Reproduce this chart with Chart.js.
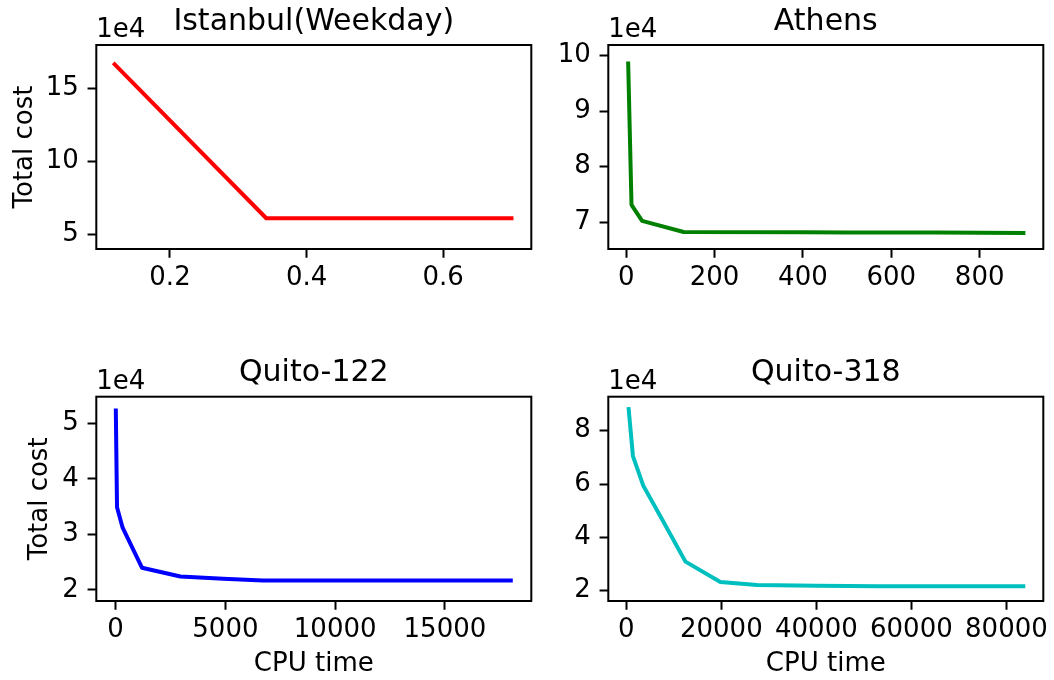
<!DOCTYPE html>
<html>
<head>
<meta charset="utf-8">
<script src="https://cdn.jsdelivr.net/npm/chart.js@4.4.1/dist/chart.umd.min.js"></script>
<style>
  html, body { margin: 0; padding: 0; background: #fff; }
  #fig { position: relative; width: 1054px; height: 680px; }
  #fig canvas { position: absolute; left: 0; top: 0; }
</style>
</head>
<body>
<div id="fig">
  <canvas id="istanbul" width="1054" height="680"></canvas>
  <canvas id="athens" width="1054" height="680"></canvas>
  <canvas id="quito122" width="1054" height="680"></canvas>
  <canvas id="quito318" width="1054" height="680"></canvas>
</div>
<script>
// values (cost in raw units, axes show them x 1e4)
const istanbulTime = [0.119, 0.341, 0.700];
const istanbulCost = [166700, 61000, 61000];

const athensTime = [4.5, 12, 36, 130, 400, 500, 700, 800, 899];
const athensCost = [98600, 73100, 70200, 68200, 68150, 68100, 68100, 68050, 68000];

const quito122Time = [10, 65, 320, 1200, 2950, 4900, 6700, 10000, 18000];
const quito122Cost = [52300, 34900, 31200, 24000, 22400, 22000, 21700, 21700, 21700];

const quito318Time = [500, 1400, 3570, 7200, 12450, 19800, 27500, 40000, 53000, 83550];
const quito318Cost = [88100, 70500, 59400, 47800, 30900, 23300, 22100, 21900, 21700, 21700];

const istanbulXTicks = [0.2, 0.4, 0.6];
const istanbulYTicks = [50000, 100000, 150000];
const athensXTicks = [0, 200, 400, 600, 800];
const athensYTicks = [70000, 80000, 90000, 100000];
const quito122XTicks = [0, 5000, 10000, 15000];
const quito122YTicks = [20000, 30000, 40000, 50000];
const quito318XTicks = [0, 20000, 40000, 60000, 80000];
const quito318YTicks = [20000, 40000, 60000, 80000];

const FONT = "'DejaVu Sans'";
const W = 1054, H = 680;
const YW = 80, XH = 60;

Chart.defaults.font.family = FONT;
Chart.defaults.font.size = 26;
Chart.defaults.color = "#000";

const panelText = (text) => ({
    id: "panelText",
    afterDraw: (chart) => {
        const ctx = chart.ctx;
        const a = chart.chartArea;
        ctx.save();
        ctx.fillStyle = "#000";
        ctx.textBaseline = "alphabetic";

        ctx.font = "30px " + FONT;
        ctx.textAlign = "center";
        ctx.fillText(text.title, (a.left + a.right) / 2, a.top - 15.5);

        ctx.font = "26px " + FONT;
        ctx.textAlign = "left";
        ctx.fillText("1e4", a.left, a.top - 8);

        ctx.textAlign = "center";
        if (text.xlabel) {
            ctx.fillText(text.xlabel, (a.left + a.right) / 2, a.bottom + 70);
        }
        if (text.ylabel) {
            ctx.save();
            ctx.translate(a.left - text.ylabelGap, (a.top + a.bottom) / 2);
            ctx.rotate(-Math.PI / 2);
            ctx.fillText(text.ylabel, 0, 0);
            ctx.restore();
        }

        ctx.strokeStyle = "#000";
        ctx.lineWidth = 2;
        ctx.strokeRect(a.left, a.top, a.right - a.left, a.bottom - a.top);
        ctx.restore();
    },
});

const axisStyle = (ticks, range, fitSize, isX, fmt) => ({
    type: "linear",
    min: range[0],
    max: range[1],
    afterBuildTicks: (s) => {
        s.ticks = ticks.map((v) => ({ value: v }));
    },
    afterFit: (s) => {
        if (isX) s.height = fitSize;
        else s.width = fitSize;
    },
    grid: {
        drawOnChartArea: false,
        drawTicks: true,
        tickLength: 8.75,
        tickWidth: 2,
        tickColor: "#000",
    },
    border: { display: false },
    ticks: {
        autoSkip: false,
        maxRotation: 0,
        padding: isX ? 5 : 8.75,
        color: "#000",
        font: { size: 26 },
        callback: fmt,
    },
});

const makePanel = (id, box, xs, ys, color, xRange, yRange, xTicks, yTicks, text) => {
    const pts = xs.map((x, i) => ({ x: x, y: ys[i] }));
    return new Chart(document.getElementById(id), {
        type: "line",
        data: {
            datasets: [
                {
                    data: pts,
                    borderColor: color,
                    borderWidth: 4,
                    pointRadius: 0,
                    tension: 0,
                    fill: false,
                    borderJoinStyle: "round",
                    borderCapStyle: "square",
                },
            ],
        },
        options: {
            responsive: false,
            animation: false,
            devicePixelRatio: 1,
            events: [],
            layout: {
                autoPadding: false,
                padding: {
                    left: box.left - YW,
                    top: box.top,
                    right: W - box.right,
                    bottom: H - box.bottom - XH,
                },
            },
            plugins: {
                legend: { display: false },
                tooltip: { enabled: false },
                title: { display: false },
            },
            scales: {
                x: axisStyle(xTicks, xRange, XH, true, (v) => String(v)),
                y: axisStyle(yTicks, yRange, YW, false, (v) => String(v / 1e4)),
            },
        },
        plugins: [panelText(text)],
    });
};

makePanel("istanbul", { left: 96.3, top: 45, right: 531.3, bottom: 249 },
    istanbulTime, istanbulCost, "#ff0000", [0.0921, 0.729], [39900, 180000],
    istanbulXTicks, istanbulYTicks,
    { title: "Istanbul(Weekday)", ylabel: "Total cost", ylabelGap: 64.3 });

makePanel("athens", { left: 608.3, top: 45, right: 1043.3, bottom: 249 },
    athensTime, athensCost, "#008000", [-40.5, 944], [65130, 101930],
    athensXTicks, athensYTicks,
    { title: "Athens" });

makePanel("quito122", { left: 96.3, top: 396.7, right: 531.3, bottom: 601 },
    quito122Time, quito122Cost, "#0000ff", [-879, 18934], [18000, 54800],
    quito122XTicks, quito122YTicks,
    { title: "Quito-122", ylabel: "Total cost", ylabelGap: 49.3, xlabel: "CPU time" });

makePanel("quito318", { left: 608.3, top: 396.7, right: 1043.3, bottom: 601 },
    quito318Time, quito318Cost, "#00bfbf", [-3787, 87762], [16140, 92750],
    quito318XTicks, quito318YTicks,
    { title: "Quito-318", xlabel: "CPU time" });
</script>
</body>
</html>
